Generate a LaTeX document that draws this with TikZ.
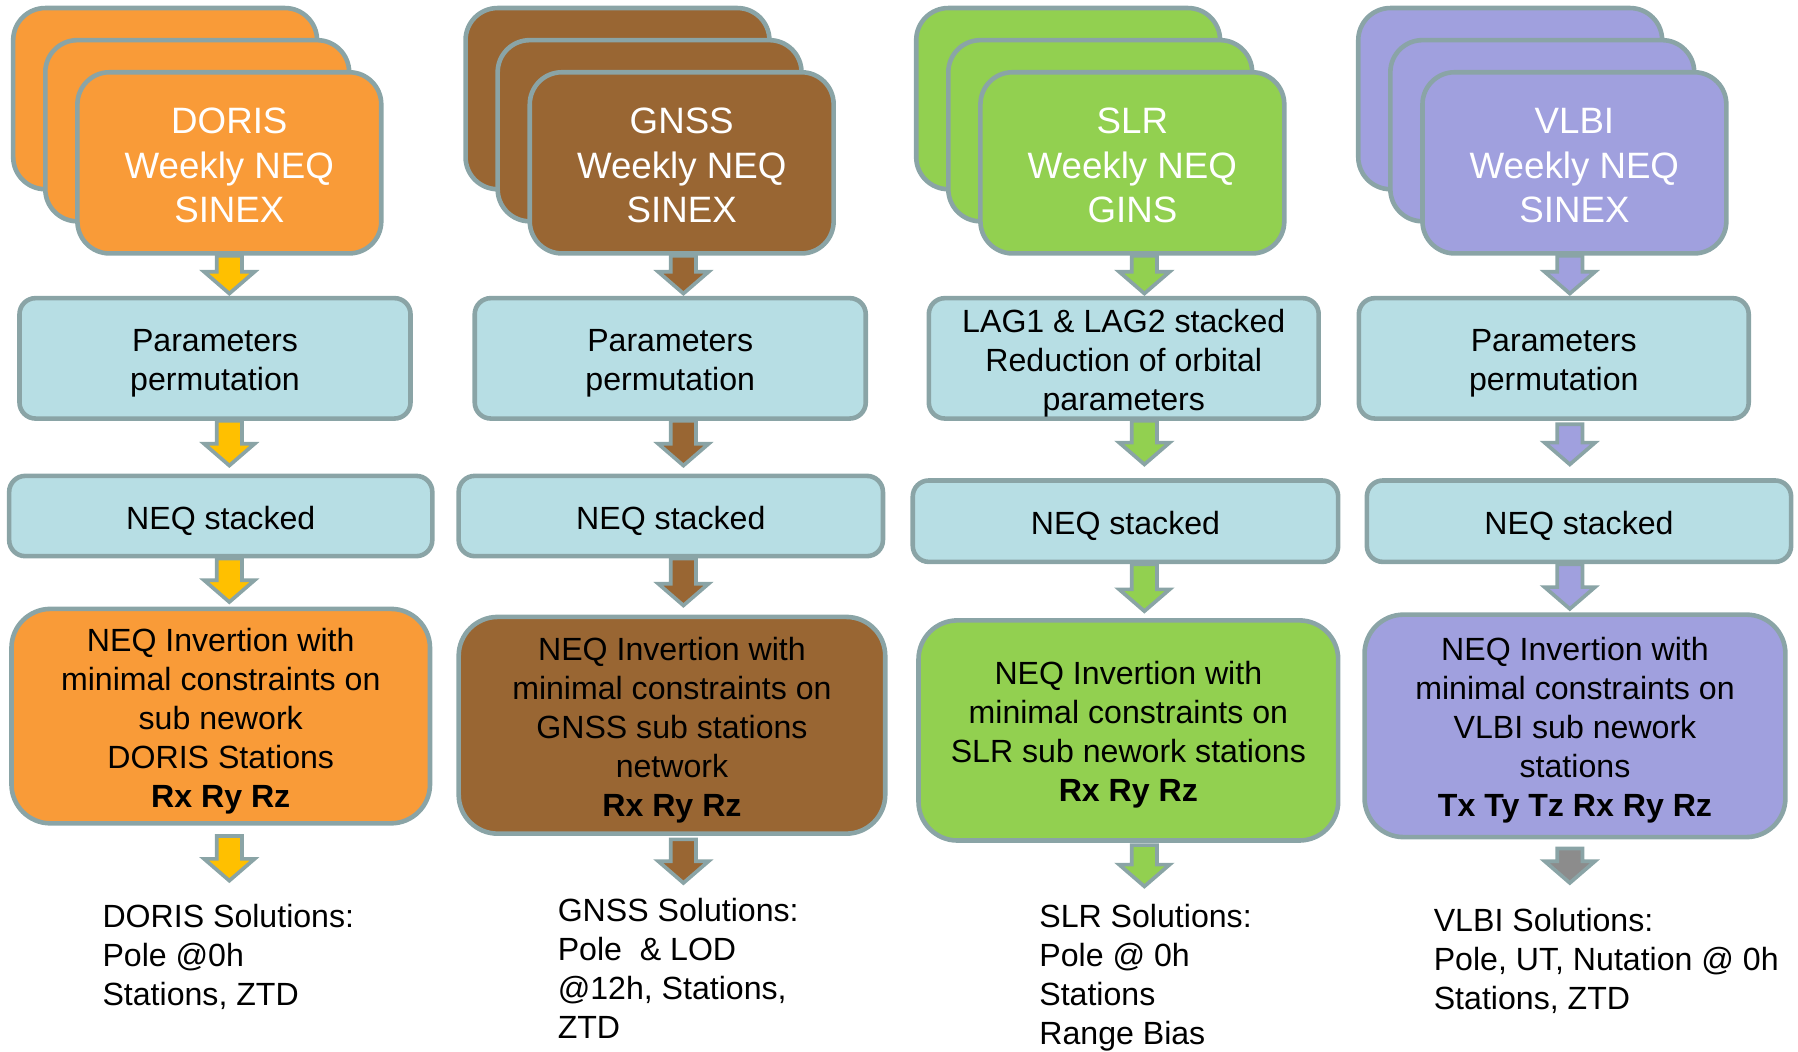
\documentclass[tikz,border=0pt]{standalone}
\usepackage{fontspec}
\setmainfont{Liberation Sans}
\usepackage{tikz}
\usetikzlibrary{calc}

\definecolor{bordercol}{RGB}{138,164,166}
\definecolor{stepblue}{RGB}{183,222,228}
\definecolor{dorisfill}{RGB}{249,155,56}
\definecolor{dorisarrow}{RGB}{255,192,0}
\definecolor{gnssfill}{RGB}{153,102,51}
\definecolor{slrfill}{RGB}{146,208,80}
\definecolor{vlbifill}{RGB}{160,160,222}
\definecolor{lastgrey}{RGB}{140,140,140}

% first-line struts, to set the text a little lower in its box
\newcommand{\bigstrut}{\rule{0pt}{13.5pt}}
\newcommand{\midstrut}{\rule{0pt}{14.2pt}}

\newcommand{\blockarrow}[3]{%
  \draw[arrowline, fill=#3] let \p1=(#1), \p2=(#2) in
    (\x1-5.5pt,\y1) -- (\x1-5.5pt,\y2+9.5pt) -- (\x1-11pt,\y2+9.5pt) -- (\x1,\y2)
    -- (\x1+11pt,\y2+9.5pt) -- (\x1+5.5pt,\y2+9.5pt) -- (\x1+5.5pt,\y1) -- cycle;}

\begin{document}
\begin{tikzpicture}[x=0.5pt,y=-0.5pt,
    topbox/.style={draw=bordercol,line width=2pt,rounded corners=14pt,minimum width=132.5pt,minimum height=79pt,inner sep=0pt,align=center,text=white,font=\fontsize{16}{19.5}\selectfont},
    stepbox/.style={draw=bordercol,line width=2pt,fill=stepblue,rounded corners=7pt,inner sep=0pt,align=center,font=\fontsize{14}{17}\selectfont},
    invbox/.style={draw=bordercol,line width=2pt,rounded corners=17pt,inner sep=0pt,align=center,font=\fontsize{14}{17}\selectfont},
    soltext/.style={anchor=north west,inner sep=0pt,align=left,font=\fontsize{14}{17}\selectfont},
    arrowline/.style={draw=bordercol,line width=1.6pt,line join=miter}]

        \useasboundingbox (0,0) rectangle (1568,917);

        % DORIS
        \node[topbox,fill=dorisfill] (dorisback) at (144,86) {};
        \node[topbox,fill=dorisfill] (dorismid) at (172,114) {};
        \node[topbox,fill=dorisfill] (doristop) at (200,142) {\bigstrut DORIS\\Weekly NEQ\\SINEX};
        \node[stepbox,minimum width=170.5pt,minimum height=52.5pt] (dorisperm) at (187.5,312.5) {\midstrut Parameters\\permutation};
        \node[stepbox,minimum width=184.5pt,minimum height=35pt] (dorisstack) at (192.5,450) {\midstrut NEQ stacked};
        \node[invbox,fill=dorisfill,minimum width=182.5pt,minimum height=93.5pt] (dorisinv) at (192.5,624.5) {\midstrut NEQ Invertion with\\minimal constraints on\\sub nework\\DORIS Stations\\\textbf{Rx Ry Rz}};
        \node[soltext] (dorissol) at (89,788) {DORIS Solutions:\\Pole @0h\\Stations, ZTD};

        % GNSS
        \node[topbox,fill=gnssfill] (gnssback) at (538.5,86) {};
        \node[topbox,fill=gnssfill] (gnssmid) at (566.5,114) {};
        \node[topbox,fill=gnssfill] (gnsstop) at (594.5,142) {\bigstrut GNSS\\Weekly NEQ\\SINEX};
        \node[stepbox,minimum width=170.5pt,minimum height=52.5pt] (gnssperm) at (584.5,312.5) {\midstrut Parameters\\permutation};
        \node[stepbox,minimum width=185pt,minimum height=35pt] (gnssstack) at (585,450) {\midstrut NEQ stacked};
        \node[invbox,fill=gnssfill,minimum width=186pt,minimum height=94.5pt] (gnssinv) at (586,632.5) {\midstrut NEQ Invertion with\\minimal constraints on\\GNSS sub stations\\network\\\textbf{Rx Ry Rz}};
        \node[soltext] (gnsssol) at (486,783) {GNSS Solutions:\\Pole ~\& LOD\\@12h, Stations,\\ZTD};

        % SLR
        \node[topbox,fill=slrfill] (slrback) at (931.5,86) {};
        \node[topbox,fill=slrfill] (slrmid) at (959.5,114) {};
        \node[topbox,fill=slrfill] (slrtop) at (987.5,142) {\bigstrut SLR\\Weekly NEQ\\GINS};
        \node[stepbox,minimum width=170pt,minimum height=52.5pt] (slrlag) at (980,312.5) {\midstrut LAG1 \& LAG2 stacked\\Reduction of orbital\\parameters};
        \node[stepbox,minimum width=185.5pt,minimum height=35.5pt] (slrstack) at (981.5,454.5) {\midstrut NEQ stacked};
        \node[invbox,fill=slrfill,minimum width=183pt,minimum height=96pt] (slrinv) at (984,637) {\midstrut NEQ Invertion with\\minimal constraints on\\SLR sub nework stations\\\textbf{Rx Ry Rz}};
        \node[soltext] (slrsol) at (906,788) {SLR Solutions:\\Pole @ 0h\\Stations\\Range Bias};

        % VLBI
        \node[topbox,fill=vlbifill] (vlbiback) at (1317,86) {};
        \node[topbox,fill=vlbifill] (vlbimid) at (1345,114) {};
        \node[topbox,fill=vlbifill] (vlbitop) at (1373,142) {\bigstrut VLBI\\Weekly NEQ\\SINEX};
        \node[stepbox,minimum width=170pt,minimum height=52.5pt] (vlbiperm) at (1355,312.5) {\midstrut Parameters\\permutation};
        \node[stepbox,minimum width=185pt,minimum height=35.5pt] (vlbistack) at (1377,454.5) {\midstrut NEQ stacked};
        \node[invbox,fill=vlbifill,minimum width=183.5pt,minimum height=97pt] (vlbiinv) at (1373.5,633) {\midstrut NEQ Invertion with\\minimal constraints on\\VLBI sub nework\\stations\\\textbf{Tx Ty Tz Rx Ry Rz}};
        \node[soltext] (vlbisol) at (1250,792) {VLBI Solutions:\\Pole, UT, Nutation @ 0h\\Stations, ZTD};

        % arrow columns and free ends
        \coordinate (dx) at (200,0);
        \coordinate (gx) at (596,0);
        \coordinate (sx) at (998,0);
        \coordinate (vx) at (1369,0);
        \coordinate (dend) at (200,768);
        \coordinate (gend) at (596,770);
        \coordinate (send) at (998,773);
        \coordinate (vend) at (1369,770);

        \blockarrow{dx |- doristop.south}{$(dx |- dorisperm.north)+(0,-2)$}{dorisarrow}
        \blockarrow{dx |- dorisperm.south}{$(dx |- dorisstack.north)+(0,-7)$}{dorisarrow}
        \blockarrow{dx |- dorisstack.south}{$(dx |- dorisinv.north)+(0,-4)$}{dorisarrow}
        \blockarrow{$(dx |- dorisinv.south)+(0,9)$}{dend}{dorisarrow}

        \blockarrow{gx |- gnsstop.south}{$(gx |- gnssperm.north)+(0,-2)$}{gnssfill}
        \blockarrow{gx |- gnssperm.south}{$(gx |- gnssstack.north)+(0,-7)$}{gnssfill}
        \blockarrow{gx |- gnssstack.south}{$(gx |- gnssinv.north)+(0,-8)$}{gnssfill}
        \blockarrow{$(gx |- gnssinv.south)+(0,3)$}{gend}{gnssfill}

        \blockarrow{sx |- slrtop.south}{$(sx |- slrlag.north)+(0,-2)$}{slrfill}
        \blockarrow{sx |- slrlag.south}{$(sx |- slrstack.north)+(0,-12)$}{slrfill}
        \blockarrow{sx |- slrstack.south}{$(sx |- slrinv.north)+(0,-6)$}{slrfill}
        \blockarrow{$(sx |- slrinv.south)+(0,2)$}{send}{slrfill}

        \blockarrow{vx |- vlbitop.south}{$(vx |- vlbiperm.north)+(0,-2)$}{vlbifill}
        \blockarrow{$(vx |- vlbiperm.south)+(0,3)$}{$(vx |- vlbistack.north)+(0,-12)$}{vlbifill}
        \blockarrow{vx |- vlbistack.south}{$(vx |- vlbiinv.north)+(0,-3)$}{vlbifill}
        \blockarrow{$(vx |- vlbiinv.south)+(0,8)$}{vend}{lastgrey}
    \end{tikzpicture}
\end{document}
